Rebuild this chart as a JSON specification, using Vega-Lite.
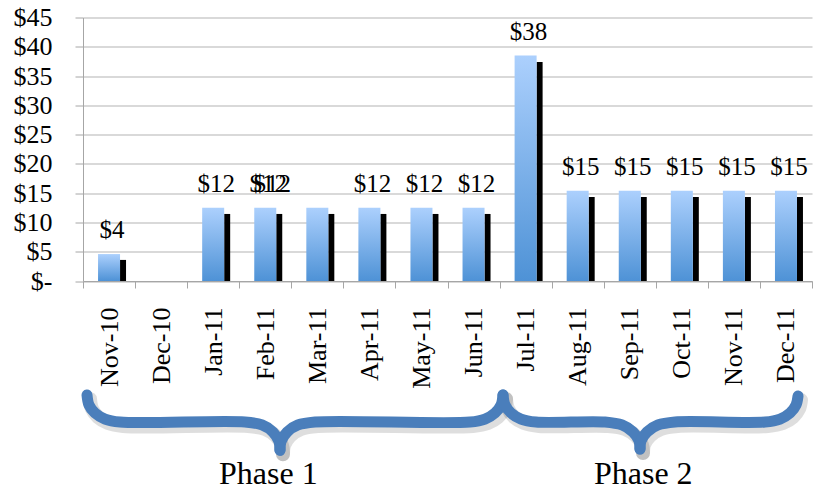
{
  "$schema": "https://vega.github.io/schema/vega-lite/v6.json",
  "autosize": {"type": "none"},
  "padding": {"left": 83, "top": 17.5, "right": 3, "bottom": 210},
  "width": 729,
  "height": 263.5,
  "background": "white",
  "config": {
    "view": {"stroke": null},
    "font": "Liberation Serif, DejaVu Serif, serif",
    "axisY": {
      "title": null,
      "values": [0,5,10,15,20,25,30,35,40,45],
      "labelOverlap": false,
      "labelExpr": "datum.value == 0 ? '$-\u00a0\u00a0' : '$' + datum.value",
      "labelFont": "Liberation Serif, DejaVu Serif, serif",
      "labelFontSize": 26,
      "labelColor": "#000000",
      "labelPadding": 23,
      "labelBaseline": "middle",
      "tickSize": 8,
      "tickColor": "#a6a6a6",
      "domainColor": "#a6a6a6",
      "grid": true,
      "gridColor": "#b3b3b3",
      "gridWidth": 1.2
    }
  },
  "datasets": {
    "bars": [
      {"month": "Nov-10", "blue": 4.6, "shadow": 3.6, "label": "$4"},
      {"month": "Dec-10", "blue": null, "shadow": null, "label": ""},
      {"month": "Jan-11", "blue": 12.5, "shadow": 11.45, "label": "$12"},
      {"month": "Feb-11", "blue": 12.5, "shadow": 11.45, "label": "$12"},
      {"month": "Mar-11", "blue": 12.5, "shadow": 11.45, "label": ""},
      {"month": "Apr-11", "blue": 12.5, "shadow": 11.45, "label": "$12"},
      {"month": "May-11", "blue": 12.5, "shadow": 11.45, "label": "$12"},
      {"month": "Jun-11", "blue": 12.5, "shadow": 11.45, "label": "$12"},
      {"month": "Jul-11", "blue": 38.5, "shadow": 37.4, "label": "$38"},
      {"month": "Aug-11", "blue": 15.4, "shadow": 14.35, "label": "$15"},
      {"month": "Sep-11", "blue": 15.4, "shadow": 14.35, "label": "$15"},
      {"month": "Oct-11", "blue": 15.4, "shadow": 14.35, "label": "$15"},
      {"month": "Nov-11", "blue": 15.4, "shadow": 14.35, "label": "$15"},
      {"month": "Dec-11", "blue": 15.4, "shadow": 14.35, "label": "$15"}
    ],
    "extraLabel": [
      {"month": "Feb-11", "blue": 12.5, "label": "$12"}
    ],
    "braces": [
      {"piece": "1L", "i": 0, "x": 0.077, "y": -19.47},
      {"piece": "1L", "i": 1, "x": 0.115, "y": -21.17},
      {"piece": "1L", "i": 2, "x": 0.230, "y": -22.54},
      {"piece": "1L", "i": 3, "x": 0.423, "y": -23.57},
      {"piece": "1L", "i": 4, "x": 0.711, "y": -24.08},
      {"piece": "1L", "i": 5, "x": 3.111, "y": -24.08},
      {"piece": "1L", "i": 6, "x": 3.438, "y": -24.59},
      {"piece": "1L", "i": 7, "x": 3.649, "y": -25.79},
      {"piece": "1L", "i": 8, "x": 3.764, "y": -27.4},
      {"piece": "1L", "i": 9, "x": 3.783, "y": -28.9},
      {"piece": "1R", "i": 0, "x": 3.783, "y": -28.9},
      {"piece": "1R", "i": 1, "x": 3.803, "y": -27.4},
      {"piece": "1R", "i": 2, "x": 3.918, "y": -25.79},
      {"piece": "1R", "i": 3, "x": 4.129, "y": -24.59},
      {"piece": "1R", "i": 4, "x": 4.456, "y": -24.08},
      {"piece": "1R", "i": 5, "x": 7.432, "y": -24.08},
      {"piece": "1R", "i": 6, "x": 7.720, "y": -23.57},
      {"piece": "1R", "i": 7, "x": 7.912, "y": -22.54},
      {"piece": "1R", "i": 8, "x": 8.028, "y": -21.17},
      {"piece": "1R", "i": 9, "x": 8.066, "y": -19.47},
      {"piece": "2L", "i": 0, "x": 8.066, "y": -19.47},
      {"piece": "2L", "i": 1, "x": 8.105, "y": -21.17},
      {"piece": "2L", "i": 2, "x": 8.220, "y": -22.54},
      {"piece": "2L", "i": 3, "x": 8.412, "y": -23.57},
      {"piece": "2L", "i": 4, "x": 8.700, "y": -24.08},
      {"piece": "2L", "i": 5, "x": 10.025, "y": -24.08},
      {"piece": "2L", "i": 6, "x": 10.351, "y": -24.59},
      {"piece": "2L", "i": 7, "x": 10.563, "y": -25.79},
      {"piece": "2L", "i": 8, "x": 10.678, "y": -27.3},
      {"piece": "2L", "i": 9, "x": 10.697, "y": -28.7},
      {"piece": "2R", "i": 0, "x": 10.697, "y": -28.7},
      {"piece": "2R", "i": 1, "x": 10.716, "y": -27.3},
      {"piece": "2R", "i": 2, "x": 10.831, "y": -25.79},
      {"piece": "2R", "i": 3, "x": 11.043, "y": -24.59},
      {"piece": "2R", "i": 4, "x": 11.369, "y": -24.08},
      {"piece": "2R", "i": 5, "x": 13.098, "y": -24.08},
      {"piece": "2R", "i": 6, "x": 13.386, "y": -23.57},
      {"piece": "2R", "i": 7, "x": 13.578, "y": -22.54},
      {"piece": "2R", "i": 8, "x": 13.693, "y": -21.17},
      {"piece": "2R", "i": 9, "x": 13.731, "y": -19.64}
    ],
    "phases": [
      {"phase": "Phase 1", "x": 3.56, "y": -34.7},
      {"phase": "Phase 2", "x": 10.76, "y": -34.7}
    ]
  },
  "layer": [
    {
      "encoding": {
        "x": {
          "field": "month",
          "type": "nominal",
          "sort": null,
          "scale": {"domain": ["Nov-10","Dec-10","Jan-11","Feb-11","Mar-11","Apr-11","May-11","Jun-11","Jul-11","Aug-11","Sep-11","Oct-11","Nov-11","Dec-11"], "paddingInner": 0, "paddingOuter": 0},
          "axis": {
            "title": null,
            "labelAngle": -90,
            "labelAlign": "right",
            "labelBaseline": "middle",
            "labelFont": "Liberation Serif, DejaVu Serif, serif",
            "labelFontSize": 26,
            "labelColor": "#000000",
            "labelPadding": 19,
            "tickBand": "extent",
            "tickSize": 7,
            "tickColor": "#a6a6a6",
            "domainColor": "#a6a6a6",
            "grid": false,
            "labelOverlap": false
          }
        }
      },
      "layer": [
        {
          "data": {"name": "bars"},
          "mark": {"type": "bar", "width": 6, "xOffset": 14, "color": "#000000"},
          "encoding": {
            "y": {"field": "shadow", "type": "quantitative", "title": null, "scale": {"domain": [0, 45], "nice": false, "zero": true}}
          }
        },
        {
          "data": {"name": "bars"},
          "mark": {
            "type": "bar",
            "width": 22,
            "fill": {
              "gradient": "linear",
              "x1": 0, "y1": 1, "x2": 0, "y2": 0,
              "stops": [
                {"offset": 0, "color": "#4e92d6"},
                {"offset": 1, "color": "#acd0fd"}
              ]
            }
          },
          "encoding": {
            "y": {"field": "blue", "type": "quantitative", "title": null}
          }
        },
        {
          "data": {"name": "bars"},
          "mark": {"type": "text", "dy": -16, "dx": 3, "baseline": "alphabetic", "font": "Liberation Serif, DejaVu Serif, serif", "fontSize": 25, "color": "#000000"},
          "encoding": {
            "y": {"field": "blue", "type": "quantitative", "title": null},
            "text": {"field": "label"}
          }
        },
        {
          "data": {"name": "extraLabel"},
          "mark": {"type": "text", "dy": -16, "dx": 7, "baseline": "alphabetic", "font": "Liberation Serif, DejaVu Serif, serif", "fontSize": 25, "color": "#000000"},
          "encoding": {
            "y": {"field": "blue", "type": "quantitative", "title": null},
            "text": {"field": "label"}
          }
        }
      ]
    },
    {
      "encoding": {
        "x": {"field": "x", "type": "quantitative", "scale": {"domain": [0, 14], "nice": false, "zero": false}, "axis": null},
        "y": {"field": "y", "type": "quantitative", "scale": {"domain": [0, 45], "nice": false, "zero": false}, "axis": null}
      },
      "layer": [
        {
          "data": {"name": "braces"},
          "mark": {"type": "line", "interpolate": "catmull-rom", "stroke": "#000000", "strokeOpacity": 0.13, "strokeWidth": 14, "strokeCap": "round", "xOffset": 3, "yOffset": 4},
          "encoding": {
            "detail": {"field": "piece"},
            "order": {"field": "i", "type": "quantitative"}
          }
        },
        {
          "data": {"name": "braces"},
          "mark": {"type": "line", "interpolate": "catmull-rom", "stroke": "#4a7ebb", "strokeWidth": 11, "strokeCap": "round", "strokeJoin": "round"},
          "encoding": {
            "detail": {"field": "piece"},
            "order": {"field": "i", "type": "quantitative"}
          }
        },
        {
          "data": {"name": "phases"},
          "mark": {"type": "text", "baseline": "alphabetic", "align": "center", "font": "Liberation Serif, DejaVu Serif, serif", "fontSize": 32, "color": "#000000"},
          "encoding": {
            "text": {"field": "phase"}
          }
        }
      ]
    }
  ],
  "resolve": {"scale": {"x": "independent", "y": "independent"}, "axis": {"x": "independent", "y": "independent"}}
}
